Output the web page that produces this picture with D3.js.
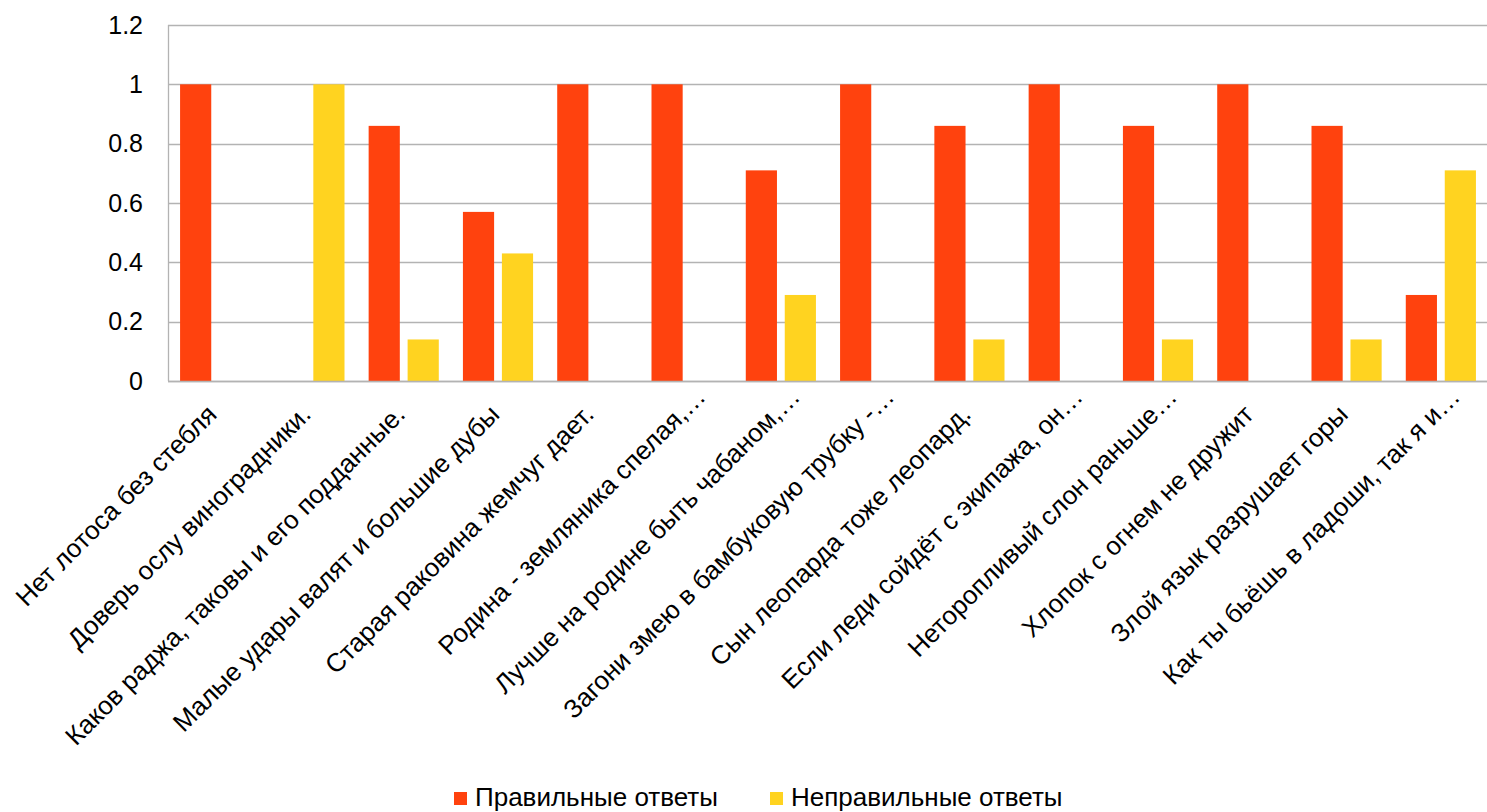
<!DOCTYPE html>
<html>
<head>
<meta charset="utf-8">
<script src="https://cdn.jsdelivr.net/npm/d3@7"></script>
<style>
  html, body { margin: 0; padding: 0; background: #fff; }
  svg { display: block; font-family: "Liberation Sans", Arial, sans-serif; }
</style>
</head>
<body>
<svg id="chart" width="1487" height="812"></svg>
<script>
// Proverbs (x-axis categories, truncated as displayed)
const categories = [
  "Нет лотоса без стебля",
  "Доверь ослу виноградники.",
  "Каков раджа, таковы и его подданные.",
  "Малые удары валят и большие дубы",
  "Старая раковина жемчуг дает.",
  "Родина - земляника спелая,…",
  "Лучше на родине быть чабаном,…",
  "Загони змею в бамбуковую трубку -…",
  "Сын леопарда тоже леопард.",
  "Если леди сойдёт с экипажа, он…",
  "Неторопливый слон раньше…",
  "Хлопок с огнем не дружит",
  "Злой язык разрушает горы",
  "Как ты бьёшь в ладоши, так я и…"
];

const seriesNames = ["Правильные ответы", "Неправильные ответы"];
const correct   = [1, 0, 0.86, 0.57, 1, 1, 0.71, 1, 0.86, 1, 0.86, 1, 0.86, 0.29];
const incorrect = [0, 1, 0.14, 0.43, 0, 0, 0.29, 0, 0.14, 0, 0.14, 0, 0.14, 0.71];
const yTicks = [0, 0.2, 0.4, 0.6, 0.8, 1, 1.2];
const yTickLabels = ["0", "0.2", "0.4", "0.6", "0.8", "1", "1.2"];
const colors = ["#ff420e", "#ffd320"];

const svg = d3.select("#chart");
const plot = { left: 168, right: 1488, top: 25, bottom: 381 };

const x0 = d3.scaleBand().domain(categories).range([plot.left, plot.right]).padding(0);
const x1 = d3.scaleBand().domain(seriesNames)
  .range([x0.step() * 0.128, x0.step() * 0.872]).paddingInner(0.2);
const y = d3.scaleLinear().domain([0, 1.2]).range([plot.bottom, plot.top]);

// horizontal grid
svg.append("g")
  .selectAll("line")
  .data(yTicks)
  .join("line")
  .attr("x1", plot.left).attr("x2", plot.right)
  .attr("y1", d => Math.round(y(d)) + 0.5).attr("y2", d => Math.round(y(d)) + 0.5)
  .attr("stroke", "#b3b3b3").attr("stroke-width", 1.3);

// left axis line
svg.append("line")
  .attr("x1", plot.left + 0.5).attr("x2", plot.left + 0.5)
  .attr("y1", plot.top).attr("y2", plot.bottom)
  .attr("stroke", "#b3b3b3").attr("stroke-width", 1.3);

// y tick labels
const yAxis = d3.axisLeft(y).tickValues(yTicks)
  .tickFormat((d, i) => yTickLabels[i]).tickSize(0).tickPadding(25);
const yg = svg.append("g").attr("transform", `translate(${plot.left},0)`).call(yAxis);
yg.select(".domain").remove();
yg.selectAll("text").attr("font-size", 25).attr("fill", "#000")
  .attr("font-family", "Liberation Sans, Arial, sans-serif");

// bars
const series = [correct, incorrect];
const groups = svg.append("g").selectAll("g")
  .data(categories)
  .join("g")
  .attr("transform", d => `translate(${x0(d)},0)`);

groups.selectAll("rect")
  .data((d, i) => seriesNames.map((s, k) => ({ s, v: series[k][i], k })))
  .join("rect")
  .attr("x", d => x1(d.s))
  .attr("width", x1.bandwidth())
  .attr("y", d => y(d.v))
  .attr("height", d => y(0) - y(d.v))
  .attr("fill", d => colors[d.k]);

// category labels, rotated; truncated labels sit a little further along
const xAxis = d3.axisBottom(x0).tickSize(0).tickPadding(0);
const xg = svg.append("g").attr("transform", `translate(0,${plot.bottom})`).call(xAxis);
xg.select(".domain").remove();
xg.selectAll("text")
  .attr("font-size", 26).attr("fill", "#000")
  .attr("font-family", "Liberation Sans, Arial, sans-serif")
  .attr("text-anchor", "end")
  .attr("dy", null).attr("y", 0)
  .attr("dx", d => d.endsWith("…") ? 25 : 0)
  .attr("transform", "translate(3,35) rotate(-45)");

// bottom axis line (drawn over bars)
svg.append("line")
  .attr("x1", plot.left).attr("x2", plot.right)
  .attr("y1", plot.bottom + 0.5).attr("y2", plot.bottom + 0.5)
  .attr("stroke", "#b3b3b3").attr("stroke-width", 1.3);

// legend
const legend = svg.append("g").attr("transform", "translate(0,806)");
const legendX = [454, 770];
seriesNames.forEach((s, k) => {
  legend.append("rect").attr("x", legendX[k]).attr("y", -14).attr("width", 13).attr("height", 13)
    .attr("fill", colors[k]);
  legend.append("text").attr("x", legendX[k] + 21).attr("y", 0)
    .attr("font-size", 26).attr("fill", "#000").text(s);
});
</script>
</body>
</html>
